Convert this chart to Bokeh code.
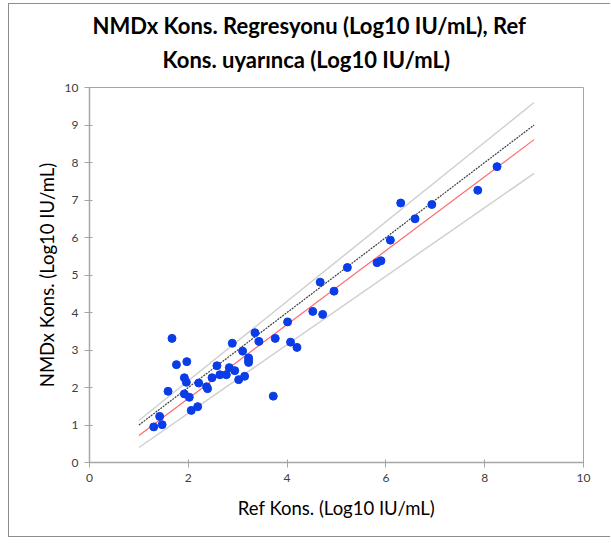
from bokeh.plotting import figure
from bokeh.models import Range1d, Title, FixedTicker
from bokeh.embed import file_html
from bokeh.resources import INLINE

# ---- data ----
ref_x = [1.30, 1.42, 1.47, 1.59, 1.67, 1.76, 1.97, 1.92, 1.96, 1.92, 2.02, 2.06, 2.19, 2.21,
         2.39, 2.37, 2.48, 2.58, 2.64, 2.77, 2.83, 2.94, 3.02, 3.14, 2.89, 3.10, 3.22, 3.22,
         3.22, 3.35, 3.43, 3.76, 3.72, 4.01, 4.07, 4.20, 4.52, 4.72, 4.67, 4.95, 5.22, 5.82,
         5.90, 6.09, 6.59, 6.30, 6.93, 7.86, 8.25]
nmdx_y = [0.95, 1.23, 1.01, 1.90, 3.31, 2.61, 2.69, 2.26, 2.14, 1.83, 1.74, 1.39, 1.49, 2.12,
          1.97, 2.02, 2.26, 2.58, 2.34, 2.34, 2.53, 2.45, 2.21, 2.30, 3.18, 2.97, 2.79, 2.72,
          2.67, 3.46, 3.23, 3.31, 1.77, 3.75, 3.21, 3.07, 4.03, 3.95, 4.81, 4.57, 5.20, 5.33,
          5.38, 5.93, 6.50, 6.92, 6.88, 7.26, 7.89]

line_x = [1, 9]
identity_y = [1, 9]
fit_y = [0.72, 8.61]
upper_y = [1.12, 9.60]
lower_y = [0.40, 7.71]

x_ticks = [0, 2, 4, 6, 8, 10]
y_ticks = [0, 1, 2, 3, 4, 5, 6, 7, 8, 9, 10]

FONT = "Lato"
AXIS_GRAY = "#a6a6a6"

p = figure(width=602, height=534, output_backend="svg", toolbar_location=None,
           x_range=Range1d(0, 10), y_range=Range1d(0, 10),
           min_border_left=80, min_border_right=28, min_border_top=83, min_border_bottom=76)
p.styles = {"margin-left": "8px", "margin-top": "3px",
            "border-top": "1px solid #8c8c8c", "border-left": "1px solid #8c8c8c",
            "border-bottom": "1px solid #8c8c8c"}

p.title.text = ""
p.add_layout(Title(text="Kons. uyarınca (Log10 IU/mL)", align="left", offset=73,
                   text_font=FONT, text_font_size="22px", text_font_style="bold",
                   text_color="#000000", standoff=30), "above")
p.add_layout(Title(text="NMDx Kons. Regresyonu (Log10 IU/mL), Ref", align="left", offset=3,
                   text_font=FONT, text_font_size="22px", text_font_style="bold",
                   text_color="#000000", standoff=-21), "above")

p.outline_line_color = AXIS_GRAY
p.outline_line_width = 1
p.xgrid.visible = False
p.ygrid.visible = False
p.background_fill_color = "white"
p.border_fill_color = "white"

for ax in (p.xaxis[0], p.yaxis[0]):
    ax.axis_line_color = AXIS_GRAY
    ax.axis_line_width = 1.5
    ax.major_tick_line_color = AXIS_GRAY
    ax.major_tick_line_width = 1
    ax.major_tick_in = 3
    ax.major_tick_out = 5
    ax.minor_tick_line_color = None
    ax.major_label_text_font = FONT
    ax.major_label_text_font_size = "12px"
    ax.major_label_text_color = "#404040"
    ax.axis_label_text_font = FONT
    ax.axis_label_text_font_size = "18.5px"
    ax.axis_label_text_font_style = "normal"
    ax.axis_label_text_color = "#000000"
    ax.major_label_standoff = 6

p.xaxis[0].axis_label_standoff = 12
p.yaxis[0].axis_label_standoff = 4
p.xaxis[0].ticker = FixedTicker(ticks=x_ticks)
p.yaxis[0].ticker = FixedTicker(ticks=y_ticks)
p.xaxis[0].axis_label = "Ref Kons. (Log10 IU/mL)"
p.yaxis[0].axis_label = "NMDx Kons. (Log10 IU/mL)"

p.line(line_x, upper_y, line_color="#d0d0d0", line_width=1.5)
p.line(line_x, lower_y, line_color="#d0d0d0", line_width=1.5)
p.line(line_x, identity_y, line_color="#404040", line_width=1.2, line_dash="2 1")
p.line(line_x, fit_y, line_color="#ff6b6b", line_width=1.2)
p.scatter(ref_x, nmdx_y, size=8, fill_color="#0a3ce8", line_color="#0a3ce8")

open("out.html", "w").write(file_html(p, INLINE))
